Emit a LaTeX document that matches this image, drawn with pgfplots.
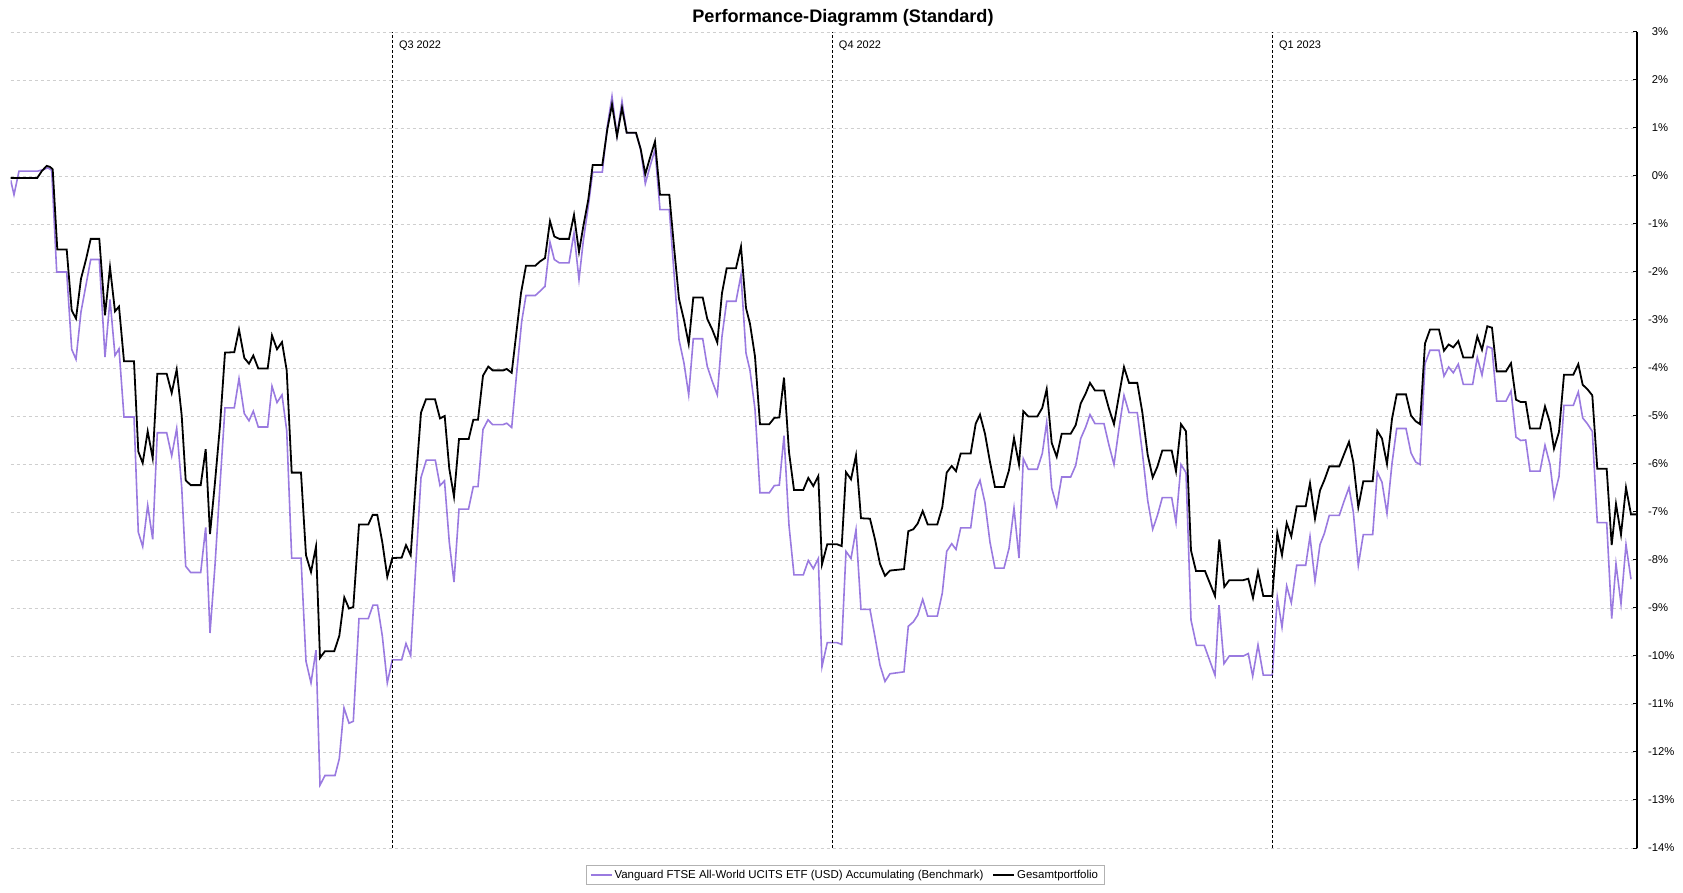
\documentclass[border=0pt]{standalone}
\usepackage{fontspec}
\setmainfont{Liberation Sans}
\usepackage{pgfplots}
\pgfplotsset{compat=1.18}
\definecolor{bench}{HTML}{9A7AE0}
\definecolor{gridgray}{HTML}{CFCFCF}
\begin{document}
\begin{tikzpicture}
\path[use as bounding box] (0bp,0bp) rectangle (1683bp,893bp);
\begin{axis}[
    at={(10.7bp,45bp)}, anchor=south west,
    scale only axis, width=1626.3bp, height=816bp,
    xmin=10.7, xmax=1637, ymin=-14, ymax=3,
    axis x line=none, axis y line*=right,
    every non boxed y axis/.append style={ytick align=outside, y axis line style={-}},
    y axis line style={line width=1.2bp, black},
    ytick={-14,...,3},
    yticklabels={-14\%,-13\%,-12\%,-11\%,-10\%,-9\%,-8\%,-7\%,-6\%,-5\%,-4\%,-3\%,-2\%,-1\%,\phantom{-}0\%,\phantom{-}1\%,\phantom{-}2\%,\phantom{-}3\%},
    yticklabel style={anchor=west, inner xsep=0pt, xshift=11bp, font=\fontsize{11.3}{13}\selectfont},
    major tick length=4bp,
    ytick style={line width=1bp, black},
    ymajorgrids,
    major grid style={dash pattern=on 3bp off 3bp, gridgray, line width=0.8bp},
    legend columns=2,
    legend image code/.code={\draw[#1] (0bp,0bp) -- (21bp,0bp);},
    legend style={at={(axis description cs:0.513,-0.0331)}, anchor=center,
        draw=black!30, line width=0.8bp, inner xsep=4bp, inner ysep=2.5bp,
        font=\fontsize{11.5}{13}\selectfont, legend cell align=left,
        /tikz/every even column/.append style={column sep=7bp}},
]
\addplot[bench, line width=1.6bp] coordinates {
(10.7,-0.09) (14,-0.39) (19,0.10) (37.3,0.10) (43,0.13) (47.7,0.17) (51.7,0.12) (56.7,-2.0) (66.7,-2.0)
(71.7,-3.61) (76,-3.82) (81,-2.83) (86,-2.27) (90.7,-1.74) (99.3,-1.74) (105,-3.77) (110,-2.57) (115,-3.74)
(119,-3.60) (124,-5.02) (134,-5.02) (138.3,-7.42) (142.7,-7.72) (147.7,-6.86) (152.7,-7.57) (157.3,-5.35)
(166.7,-5.35) (171.7,-5.83) (176.7,-5.26) (181.7,-6.48) (185.7,-8.13) (190.7,-8.26) (200.7,-8.26) (205.7,-7.32)
(210,-9.52) (215,-8.11) (220,-6.44) (225,-4.83) (234.3,-4.83) (239,-4.22) (244.3,-4.95) (249,-5.10) (253.3,-4.90)
(258.3,-5.23) (267.7,-5.23) (272,-4.38) (277,-4.72) (282,-4.56) (286.7,-5.30) (291.7,-7.96) (301,-7.96)
(306,-10.11) (311,-10.56) (316,-9.88) (320,-12.69) (325,-12.49) (335,-12.49) (339.3,-12.14) (344,-11.08)
(349,-11.40) (353.3,-11.36) (359,-9.22) (368.3,-9.22) (373,-8.94) (377.5,-8.94) (382.3,-9.58) (387.3,-10.56)
(392.3,-10.08) (401.7,-10.08) (406,-9.74) (410.7,-9.99) (416,-8.04) (421,-6.28) (426.3,-5.92) (435.3,-5.92)
(440,-6.45) (444.5,-6.35) (449.3,-7.63) (454,-8.46) (459,-6.94) (468.5,-6.94) (473.3,-6.47) (478,-6.47)
(483,-5.28) (488,-5.08) (492.7,-5.18) (503,-5.18) (506.7,-5.15) (511.7,-5.24) (516.7,-4.1) (521.7,-3.03)
(526,-2.49) (535.3,-2.49) (540,-2.40) (545,-2.30) (550,-1.38) (554.3,-1.74) (559.3,-1.81) (569,-1.81)
(574,-1.19) (579,-2.16) (583.3,-1.35) (588.3,-0.63) (592.7,0.08) (602.3,0.08) (607.3,1.03) (612,1.66)
(617,0.84) (622,1.56) (626.7,0.90) (636,0.90) (640.7,0.55) (645.3,-0.16) (650,0.20) (655,0.55) (660,-0.70)
(669.3,-0.70) (674,-2.02) (679,-3.41) (684,-3.9) (688.7,-4.56) (693.3,-3.39) (702.7,-3.39) (707.3,-3.97)
(712.3,-4.28) (717.3,-4.56) (722,-3.34) (726.7,-2.61) (736,-2.61) (741,-2.06) (746,-3.69) (750,-4.05)
(755,-4.86) (760,-6.60) (769.3,-6.60) (774.3,-6.45) (779.3,-6.44) (784,-5.41) (789,-7.28) (794,-8.31)
(803.3,-8.31) (808.3,-8.01) (813.3,-8.18) (818.3,-7.97) (822,-10.22) (827.3,-9.72) (836.7,-9.72) (841.7,-9.76)
(846,-7.82) (851,-7.97) (856,-7.37) (861,-9.03) (870,-9.03) (875,-9.6) (880,-10.19) (885,-10.53) (890,-10.37)
(904,-10.33) (908.3,-9.38) (913.3,-9.29) (917.7,-9.15) (922.7,-8.82) (927.7,-9.17) (937.3,-9.17) (942.3,-8.69)
(946.7,-7.82) (951.7,-7.66) (956,-7.78) (960.7,-7.33) (970.7,-7.33) (975.7,-6.55) (980,-6.34) (985,-6.81)
(990,-7.63) (995,-8.17) (1004,-8.17) (1009,-7.76) (1014,-6.92) (1019,-7.96) (1023.3,-5.89) (1028.3,-6.11)
(1037.3,-6.11) (1042.3,-5.78) (1046.7,-5.13) (1051.7,-6.50) (1056.7,-6.88) (1061.7,-6.27) (1070.7,-6.27)
(1075.7,-6.03) (1080.7,-5.47) (1085.7,-5.23) (1090,-4.97) (1095,-5.16) (1104,-5.16) (1109,-5.61) (1114,-6.01)
(1119,-5.26) (1124,-4.57) (1129,-4.93) (1137.3,-4.93) (1142.3,-5.75) (1147.7,-6.76) (1152.7,-7.36)
(1157.3,-7.08) (1162.3,-6.70) (1171.7,-6.70) (1176,-7.22) (1181,-6.01) (1186,-6.18) (1191,-9.25)
(1196.5,-9.78) (1204.3,-9.78) (1209.3,-10.07) (1215,-10.40) (1219,-8.94) (1224,-10.16) (1229.3,-10.0)
(1243.3,-10.0) (1248.3,-9.95) (1252.7,-10.42) (1258,-9.77) (1263.3,-10.40) (1272.3,-10.40) (1277.3,-8.78)
(1282,-9.40) (1286.7,-8.54) (1291.3,-8.89) (1296.7,-8.11) (1305.7,-8.11) (1310,-7.51) (1315,-8.44) (1320,-7.68)
(1324.3,-7.45) (1329.3,-7.07) (1339.3,-7.07) (1344,-6.78) (1349,-6.49) (1353.3,-7.0) (1358.3,-8.11)
(1363.3,-7.47) (1372.7,-7.47) (1377.3,-6.17) (1382,-6.38) (1387,-7.03) (1392,-5.99) (1396.7,-5.26) (1406,-5.26)
(1411,-5.77) (1415.7,-5.96) (1420,-6.01) (1425,-3.91) (1430,-3.63) (1439,-3.63) (1444,-4.17) (1448.7,-3.98)
(1453.3,-4.10) (1458.3,-3.92) (1463.3,-4.34) (1472.7,-4.34) (1477.3,-3.78) (1482,-4.15) (1487.3,-3.55)
(1492,-3.59) (1496.7,-4.69) (1506,-4.69) (1511,-4.48) (1516,-5.44) (1520.7,-5.51) (1525.7,-5.50) (1530,-6.15)
(1540,-6.15) (1545,-5.61) (1550,-6.01) (1554,-6.69) (1559,-6.26) (1564,-4.78) (1573.3,-4.78) (1578.3,-4.50)
(1582.7,-5.04) (1587.3,-5.16) (1592.3,-5.32) (1597.3,-7.22) (1606.7,-7.22) (1611.7,-9.22) (1616,-8.08)
(1621,-8.91) (1626,-7.68) (1631,-8.40)
};
\addlegendentry{Vanguard FTSE All-World UCITS ETF (USD) Accumulating (Benchmark)}
\addplot[black, line width=1.8bp] coordinates {
(10.7,-0.04) (37.3,-0.04) (41.7,0.10) (46.7,0.21) (50,0.19) (52.7,0.14) (57.3,-1.53) (66.7,-1.53) (71.7,-2.80)
(76,-2.97) (81,-2.14) (86,-1.74) (90.7,-1.31) (99.3,-1.31) (105,-2.90) (110,-1.90) (115,-2.82) (119,-2.72)
(124,-3.86) (134,-3.86) (138.3,-5.74) (142.7,-5.98) (147.7,-5.32) (152.7,-5.88) (157.3,-4.12) (166.7,-4.12)
(171.7,-4.52) (176.7,-4.03) (181.7,-4.99) (185.7,-6.34) (190.7,-6.44) (200.7,-6.44) (205.7,-5.69) (210,-7.46)
(215,-6.38) (220,-5.2) (225,-3.68) (234.3,-3.67) (239,-3.2) (244.3,-3.79) (249,-3.91) (253.3,-3.74) (258.3,-4.01)
(267.7,-4.01) (272,-3.32) (277,-3.61) (282,-3.46) (286.7,-4.05) (291.7,-6.18) (301,-6.18) (306,-7.90) (311,-8.25)
(316,-7.72) (320,-10.04) (325,-9.9) (334.3,-9.9) (339.3,-9.58) (344.3,-8.78) (349,-9.01) (353.3,-8.98) (359,-7.26)
(368.3,-7.26) (372.7,-7.06) (377.3,-7.06) (382.3,-7.63) (387.3,-8.35) (392.3,-7.96) (401.7,-7.95) (406,-7.69)
(410.7,-7.90) (416,-6.31) (421,-4.93) (426,-4.65) (435,-4.65) (440,-5.05) (444.7,-5.0) (449.3,-6.10) (454,-6.68)
(459,-5.48) (468.7,-5.48) (473.3,-5.08) (478,-5.08) (483,-4.16) (488.3,-3.97) (492.7,-4.05) (503.3,-4.05)
(506.7,-4.02) (511.7,-4.10) (521,-2.44) (526,-1.87) (535.3,-1.87) (540,-1.78) (545,-1.71) (550,-0.94)
(554.3,-1.26) (559.3,-1.31) (569,-1.31) (574,-0.81) (579,-1.58) (583.3,-1.05) (588.3,-0.49) (592.7,0.23)
(602.3,0.23) (607.3,0.97) (612,1.49) (617,0.83) (622,1.42) (626.7,0.90) (636,0.90) (640.7,0.56) (645.3,0.04)
(650,0.38) (655,0.72) (660,-0.39) (669.3,-0.39) (674,-1.47) (679,-2.56) (684,-3.0) (688.7,-3.50) (693.3,-2.53)
(702.7,-2.53) (707.3,-2.98) (712.3,-3.20) (717.3,-3.47) (722,-2.44) (726.7,-1.92) (736,-1.92) (741,-1.47)
(746,-2.75) (750,-3.08) (755,-3.76) (760,-5.17) (769.3,-5.17) (774.3,-5.04) (779.3,-5.03) (784,-4.20) (789,-5.75)
(794,-6.54) (803.3,-6.54) (808.3,-6.29) (813.3,-6.46) (818.3,-6.25) (822,-8.09) (827.3,-7.67) (836.7,-7.67)
(841.7,-7.71) (846,-6.17) (851,-6.32) (856,-5.82) (861,-7.13) (870,-7.14) (875,-7.57) (880,-8.08) (885,-8.33)
(890,-8.22) (904,-8.19) (908.3,-7.40) (913.3,-7.36) (917.7,-7.24) (922.7,-6.98) (927.7,-7.26) (937.3,-7.26)
(942.3,-6.90) (946.7,-6.18) (951.7,-6.04) (956,-6.15) (960.7,-5.78) (970.7,-5.78) (975.7,-5.16) (980,-4.97)
(985,-5.37) (990,-5.96) (995,-6.48) (1004,-6.48) (1009,-6.13) (1014,-5.46) (1019,-6.01) (1023.3,-4.90)
(1028.3,-5.01) (1037.3,-5.01) (1042.3,-4.83) (1046.7,-4.44) (1051.7,-5.56) (1056.7,-5.85) (1061.7,-5.37)
(1070.7,-5.37) (1075.7,-5.19) (1080.7,-4.74) (1085.7,-4.53) (1090,-4.31) (1095,-4.47) (1104,-4.47) (1109,-4.85)
(1114,-5.17) (1119,-4.57) (1124,-3.98) (1129,-4.31) (1137.3,-4.31) (1142.3,-4.92) (1147.7,-5.81) (1152.7,-6.28)
(1157.3,-6.06) (1162.3,-5.72) (1171.7,-5.72) (1176,-6.15) (1181,-5.17) (1186,-5.32) (1191,-7.80) (1196,-8.23)
(1205,-8.23) (1210,-8.49) (1215,-8.75) (1219.3,-7.57) (1224.3,-8.56) (1229.3,-8.42) (1243.3,-8.42)
(1248.3,-8.39) (1253,-8.79) (1258,-8.24) (1263.3,-8.75) (1272.3,-8.75) (1277.3,-7.44) (1282,-7.90)
(1286.7,-7.23) (1291.3,-7.51) (1296.7,-6.88) (1305.7,-6.88) (1310,-6.40) (1315,-7.14) (1320,-6.55)
(1324.3,-6.34) (1329.3,-6.05) (1339.3,-6.05) (1344,-5.80) (1349,-5.54) (1353.3,-5.96) (1358.3,-6.90)
(1363.3,-6.36) (1372.7,-6.36) (1377.3,-5.31) (1382,-5.47) (1387,-6.0) (1392,-5.06) (1396.7,-4.55) (1406,-4.55)
(1411,-4.99) (1415.7,-5.11) (1420,-5.17) (1425,-3.49) (1430,-3.20) (1439,-3.20) (1444,-3.64) (1448.7,-3.51)
(1453.3,-3.57) (1458.3,-3.44) (1463.3,-3.78) (1472.7,-3.78) (1477.3,-3.34) (1482,-3.62) (1487.3,-3.13)
(1492,-3.16) (1496.7,-4.07) (1506,-4.07) (1511,-3.90) (1516,-4.66) (1520.7,-4.71) (1525.7,-4.71) (1530,-5.26)
(1540,-5.26) (1545,-4.80) (1550,-5.14) (1554,-5.68) (1559,-5.33) (1564,-4.14) (1573.3,-4.14) (1578.3,-3.92)
(1582.7,-4.35) (1587.3,-4.44) (1592.3,-4.57) (1597.3,-6.10) (1606.7,-6.10) (1611.7,-7.69) (1616,-6.83)
(1621,-7.47) (1626,-6.49) (1631,-7.05) (1636,-7.05)
};
\addlegendentry{Gesamtportfolio}
% quarter boundaries
\foreach \q/\lab in {392.3/Q3 2022, 832.3/Q4 2022, 1272.3/Q1 2023} {
    \edef\temp{\noexpand\draw[black, line width=0.9bp, dash pattern=on 3bp off 2bp] (axis cs:\q,-14) -- (axis cs:\q,3);
        \noexpand\node[anchor=west, inner sep=0pt, xshift=6.5bp, font=\noexpand\fontsize{11}{13}\noexpand\selectfont] at (axis cs:\q,2.72) {\lab};}
    \temp
}
\end{axis}
\node[font=\bfseries\fontsize{18.2}{21}\selectfont] at (843bp,875bp) {Performance-Diagramm (Standard)};
\end{tikzpicture}
\end{document}
